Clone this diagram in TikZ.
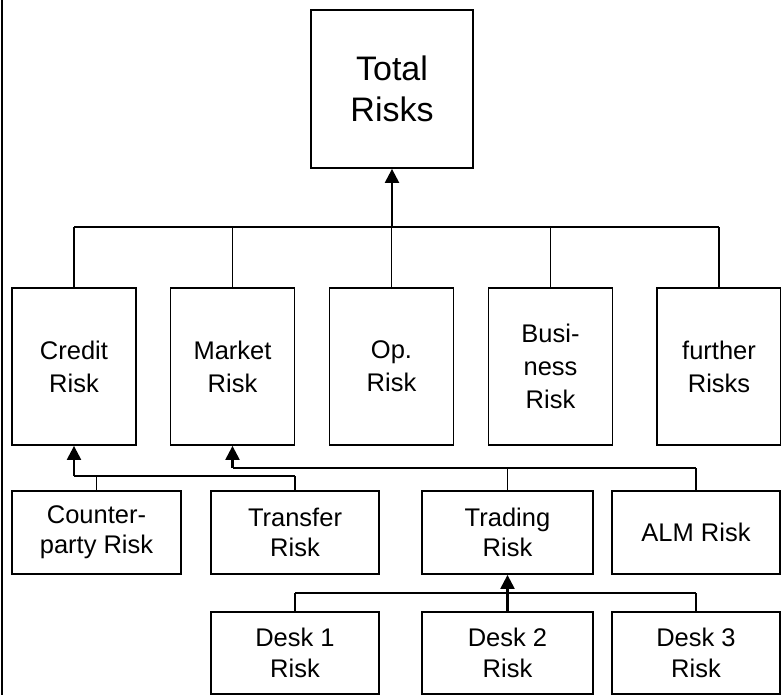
\documentclass[tikz,border=0pt]{standalone}
\usepackage{fontspec}
\setmainfont{Liberation Sans}
\usetikzlibrary{arrows.meta}
\tikzset{
  box/.style={draw, line width=1.8pt, align=center, inner sep=0pt, font=\fontsize{25.5}{33}\selectfont},
  lvltwo/.style={box, minimum width=124pt, minimum height=157pt},
  lvlthree/.style={box, minimum height=83pt, font=\fontsize{25.5}{30}\selectfont},
  drop/.style={line width=1.6pt},
  busline/.style={line width=2.1pt},
  arr/.style={line width=2.3pt, -{Triangle[width=14pt,length=14pt]}},
}
\begin{document}
\begin{tikzpicture}[x=1pt,y=-1pt]
\useasboundingbox (0,0) rectangle (781,695);
\draw[line width=1.8pt] (2,0) -- (2,695);
% level 1
\node[box, minimum width=162pt, minimum height=158pt, font=\fontsize{34}{41}\selectfont] (total) at (392,89) {Total\\Risks};
% level 2
\node[lvltwo] (credit) at (74,366.5) {Credit\\Risk};
\node[lvltwo] (market) at (232.5,366.5) {Market\\Risk};
\node[lvltwo] (op) at (391.5,366.5) {Op.\\Risk};
\node[lvltwo] (business) at (550.5,366.5) {Busi-\\ness\\Risk};
\node[lvltwo] (further) at (719,366.5) {further\\Risks};
% level 3
\node[lvlthree, minimum width=169pt] (counter) at (96.5,532.5) {Counter-\\party Risk};
\node[lvlthree, minimum width=168pt] (transfer) at (295,532.5) {Transfer\\Risk};
\node[lvlthree, minimum width=171pt] (trading) at (507.5,532.5) {Trading\\Risk};
\node[lvlthree, minimum width=168pt] (alm) at (696,532.5) {ALM Risk};
% level 4
\node[lvlthree, minimum width=168pt, minimum height=82pt, font=\fontsize{25.5}{31}\selectfont] (desk1) at (295,653) {Desk 1\\Risk};
\node[lvlthree, minimum width=171pt, minimum height=82pt, font=\fontsize{25.5}{31}\selectfont] (desk2) at (507.5,653) {Desk 2\\Risk};
\node[lvlthree, minimum width=168pt, minimum height=82pt, font=\fontsize{25.5}{31}\selectfont] (desk3) at (696,653) {Desk 3\\Risk};
% bus coordinates
\coordinate (tb) at (392,227);
\coordinate (cb) at (0,476);
\coordinate (mb) at (0,468);
\coordinate (db) at (0,593);
% total bus
\foreach \n in {credit,market,op,business,further}
  \draw[drop] (\n.north) -- (\n.north |- tb);
\draw[busline] (credit.north |- tb) -- (further.north |- tb);
\draw[arr] (tb) -- (total.south);
% credit bus
\draw[drop] (counter.north) -- (counter.north |- cb);
\draw[drop] (transfer.north) -- (transfer.north |- cb);
\draw[busline] (credit.south |- cb) -- (transfer.north |- cb);
\draw[arr] (credit.south |- cb) -- (credit.south);
% market bus
\draw[drop] (trading.north) -- (trading.north |- mb);
\draw[drop] (alm.north) -- (alm.north |- mb);
\draw[busline] (market.south |- mb) -- (alm.north |- mb);
\draw[arr] (market.south |- mb) -- (market.south);
% desk bus
\draw[drop] (desk1.north) -- (desk1.north |- db);
\draw[drop] (desk3.north) -- (desk3.north |- db);
\draw[busline] (desk1.north |- db) -- (desk3.north |- db);
\draw[arr] (desk2.north) -- (trading.south);
\end{tikzpicture}
\end{document}
